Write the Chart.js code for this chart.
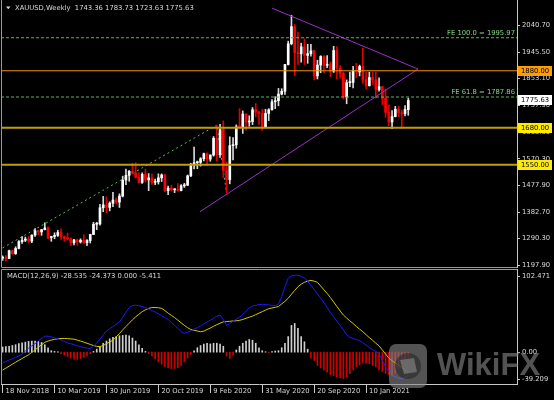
<!DOCTYPE html>
<html>
<head>
<meta charset="utf-8">
<script src="https://cdn.jsdelivr.net/npm/chart.js@4/dist/chart.umd.min.js"></script>
<style>
html, body { margin: 0; padding: 0; background: #000; }
#wrap { position: relative; width: 554px; height: 400px; overflow: hidden; background: #000; }
canvas { position: absolute; left: 0; background: #000; }
#priceChart { top: 0; }
#macdChart { top: 268px; }
</style>
</head>
<body>
<div id="wrap">
  <canvas id="priceChart" width="554" height="268"></canvas>
  <canvas id="macdChart" width="554" height="132"></canvas>
</div>
<script>
// weekly XAUUSD bars, 18 Nov 2018 .. 11 Apr 2021 (bar index = week number)
var openP = [1222,1223,1221,1248,1238,1256,1280,1285,1289,1282,
  1303,1318,1314,1322,1328,1294,1298,1302,1312,1296,
  1291,1290,1276,1286,1279,1285,1276,1284,1305,1341,
  1342,1399,1409,1400,1415,1426,1419,1440,1496,1513,
  1527,1520,1506,1488,1516,1497,1504,1488,1490,1504,
  1514,1459,1468,1462,1464,1459,1476,1478,1511,1552,
  1557,1558,1571,1589,1570,1584,1643,1585,1673,1530,
  1498,1617,1620,1685,1683,1728,1700,1702,1743,1735,
  1730,1683,1730,1743,1771,1775,1798,1808,1902,1975,
  2035,1944,1940,1964,1934,1940,1950,1862,1900,1930,
  1899,1902,1879,1951,1889,1871,1788,1838,1839,1881,
  1876,1895,1849,1828,1856,1848,1814,1824,1784,1734,
  1700,1719,1745,1732,1729,1743.36];
var highP = [1230,1231,1250,1251,1262,1284,1298,1296,1298,1304,
  1326,1320,1323,1346,1332,1299,1311,1320,1325,1300,
  1310,1294,1288,1289,1290,1304,1287,1306,1348,1348,
  1411,1439,1437,1420,1453,1433,1448,1510,1535,1530,
  1555,1557,1522,1522,1535,1519,1517,1500,1518,1518,
  1516,1475,1478,1466,1484,1480,1485,1514,1555,1612,
  1563,1575,1591,1592,1585,1649,1689,1692,1704,1560,
  1648,1645,1690,1747,1739,1730,1722,1751,1765,1738,
  1745,1745,1747,1779,1789,1818,1817,1903,1984,2075,
  2043,2015,1977,1992,1973,1973,1953,1917,1933,1933,
  1933,1911,1966,1965,1898,1875,1848,1875,1896,1906,
  1900,1959,1875,1875,1875,1875,1855,1826,1816,1760,
  1740,1755,1756,1742,1758,1783.73];
var lowP = [1214,1211,1220,1235,1235,1254,1274,1280,1276,1276,
  1298,1304,1302,1321,1290,1281,1290,1298,1288,1281,
  1286,1266,1268,1267,1275,1274,1266,1275,1305,1322,
  1338,1385,1381,1388,1403,1412,1400,1437,1480,1492,
  1517,1503,1485,1484,1490,1459,1481,1480,1482,1491,
  1455,1445,1457,1452,1457,1458,1470,1477,1508,1535,
  1536,1545,1563,1547,1562,1580,1563,1576,1505,1451,
  1483,1567,1608,1680,1660,1671,1685,1691,1718,1692,
  1671,1680,1705,1742,1747,1757,1795,1797,1900,1971,
  1863,1902,1910,1902,1906,1931,1848,1851,1873,1872,
  1891,1860,1874,1851,1854,1781,1764,1824,1820,1855,
  1862,1836,1817,1826,1832,1785,1808,1761,1717,1687,
  1677,1718,1719,1677,1721,1723.63];
var closeP = [1223,1221,1248,1238,1256,1280,1285,1289,1282,1303,
  1318,1314,1322,1328,1294,1298,1302,1312,1296,1291,
  1290,1276,1286,1279,1285,1276,1284,1305,1341,1342,
  1399,1409,1400,1415,1426,1419,1440,1496,1513,1527,
  1520,1506,1488,1516,1497,1504,1488,1490,1504,1514,
  1459,1468,1462,1464,1459,1476,1478,1511,1552,1557,
  1558,1571,1589,1570,1584,1643,1585,1673,1530,1498,
  1617,1620,1683,1683,1728,1700,1702,1743,1735,1730,
  1683,1730,1743,1771,1775,1798,1808,1902,1975,2035,
  1944,1940,1964,1934,1940,1950,1862,1900,1930,1899,
  1902,1879,1951,1889,1871,1788,1838,1839,1881,1876,
  1895,1849,1828,1856,1848,1814,1824,1784,1734,1700,
  1719,1745,1732,1729,1744,1775.63];

// MACD(12,26,9) window
var macdMain = [-13.1,-11.5,-9.7,-8.1,-6.3,-4.6,-2.3,1.4,5.0,7.8,
  10.6,13.7,16.9,19.7,19.7,18.8,17.7,16.5,15.1,13.3,
  11.5,10.4,9.2,8.0,6.8,5.6,5.0,4.6,7.3,11.5,
  16.0,21.1,26.1,28.9,31.6,34.4,37.1,43.1,49.0,55.0,
  57.3,57.9,57.3,56.3,55.0,53.1,51.3,49.6,47.2,44.9,
  42.6,40.3,36.6,33.0,29.3,25.2,23.4,24.7,26.1,28.4,
  30.2,32.5,34.8,37.1,39.4,41.7,44.4,45.8,40.3,33.0,
  35.3,38.0,40.8,43.1,46.3,50.4,54.5,56.8,57.7,58.6,
  59.1,58.6,58.2,57.7,57.3,59.1,68.7,80.6,91.1,93.9,
  94.8,94.8,93.4,91.6,87.0,82.4,77.4,71.9,66.4,61.4,
  55.0,49.0,43.5,38.0,33.0,27.5,21.5,18.3,16.9,15.6,
  14.2,11.5,8.7,5.5,3.2,0.9,-1.6,-10.1,-18.0,-23.8,
  -28.5,-30.5,-32.0,-32.8,-30.8,-28.535];
var macdSignal = [-22.0,-19.7,-17.2,-14.8,-12.4,-10.1,-7.8,-5.5,-3.2,-0.2,
  2.7,6.0,9.2,12.1,13.7,14.9,15.8,16.5,16.9,16.9,
  16.7,16.4,16.0,14.9,13.7,12.4,11.0,9.6,8.2,7.1,
  6.9,8.2,10.5,12.6,14.7,18.8,22.9,27.5,31.6,35.7,
  39.8,43.5,46.7,49.9,52.2,54.0,55.0,55.0,54.8,54.0,
  51.3,48.1,45.3,42.6,39.4,36.2,33.0,30.2,27.9,27.0,
  26.1,25.2,25.9,27.9,29.8,31.9,33.9,35.7,37.4,37.7,
  38.0,38.5,38.7,39.2,40.3,41.7,43.1,44.4,46.3,48.1,
  49.9,51.8,53.6,54.5,55.2,56.3,59.5,62.7,66.4,71.4,
  76.0,80.6,83.8,86.1,87.5,88.4,87.5,86.1,81.5,76.9,
  72.4,67.3,61.8,56.3,50.8,45.8,42.1,38.5,35.3,31.6,
  28.4,25.2,21.5,17.9,14.7,11.0,7.8,2.7,-2.3,-7.3,
  -10.5,-13.3,-16.0,-18.8,-21.5,-24.373];
var macdHist = [6.4,6.9,7.3,8.2,9.2,10.5,11.5,12.4,13.3,13.7,
  13.7,13.3,11.9,9.2,5.5,1.8,0.9,0.5,-1.8,-3.7,
  -5.5,-7.3,-8.7,-8.7,-7.8,-6.4,-4.6,-1.8,0.9,3.7,
  7.3,11.0,13.7,16.5,18.3,19.2,20.2,20.6,21.1,20.2,
  17.4,13.7,9.2,4.6,0.9,-1.8,-4.6,-8.2,-11.9,-14.7,
  -17.4,-19.2,-20.2,-20.2,-19.2,-16.5,-11.9,-7.3,-2.7,1.8,
  5.5,8.2,10.1,11.0,10.1,11.0,11.0,10.1,7.3,-4.6,
  -7.8,-3.7,2.7,7.3,11.0,13.7,15.6,14.7,11.0,5.5,
  1.8,0.5,-0.5,0.7,1.4,1.8,5.5,11.0,19.2,33.0,
  35.4,29.3,19.2,12.8,3.7,-7.3,-10.1,-16.5,-19.2,-22.0,
  -24.7,-27.5,-28.9,-30.2,-31.6,-32.4,-31.1,-26.6,-22.0,-18.3,
  -15.6,-13.7,-13.7,-14.2,-16.5,-18.3,-22.0,-23.8,-26.3,-27.5,
  -28.4,-25.6,-20.2,-13.7,-9.2,-5.411];

var priceTicks = [2040.70, 1945.50, 1853.10, 1757.90, 1665.30, 1570.30, 1477.90, 1382.70, 1290.30, 1197.90];
var macdTicks = [102.471, 0, -39.209];
var dateTickBars = [0, 16, 32, 48, 64, 80, 96, 112];
var dateTickText = ['18 Nov 2018', '10 Mar 2019', '30 Jun 2019', '20 Oct 2019', '9 Feb 2020', '31 May 2020', '20 Sep 2020', '10 Jan 2021'];

// drawn objects (bar index, price)
var resistance = 1880, support1 = 1680, support2 = 1550;
var feLevels = [1995.97, 1787.86];
var feNames = ['FE 100.0', 'FE 61.8'];
var feTrendBars = [0, 66, 69];
var feTrendPrices = [1258, 1689, 1451];
var upperTriBars = [83, 128];
var upperTriPrices = [2100, 1886];
var lowerTriBars = [60.8, 128];
var lowerTriPrices = [1385, 1886];

var slotCount = 159;           // bars that fit the window, incl. right shift
var priceMin = 1190.9, priceMax = 2128.5;
var macdMin = -39.209, macdMax = 102.471;

var txtColor = '#d8d8d8';
var axisColor = '#c8c8c8';
var tickFont = { family: 'DejaVu Sans', size: 6.8 };
var canvasFont = '6.8px "DejaVu Sans"';

var bars = openP.map(function (o, i) { return i; });
var isUp = closeP.map(function (c, i) { return c >= openP[i]; });
var last = closeP.length - 1;
var xFrom = -0.5, xTo = slotCount - 0.5;

function lineSet(xs, ys, color, width, dash, order) {
  return {
    type: 'line',
    data: xs.map(function (x, k) { return { x: x, y: ys[k] }; }),
    borderColor: color, borderWidth: width, borderDash: dash,
    pointRadius: 0, pointHoverRadius: 0, fill: false, tension: 0, order: order
  };
}

var priceOverlay = {
  id: 'priceOverlay',
  afterDraw: function (chart) {
    var ctx = chart.ctx, a = chart.chartArea, y = chart.scales.y;
    ctx.save();
    ctx.strokeStyle = '#9a9a9a';
    ctx.lineWidth = 1;
    ctx.beginPath();
    ctx.moveTo(a.left + 0.5, 0);
    ctx.lineTo(a.left + 0.5, a.bottom + 0.5);
    ctx.lineTo(a.right, a.bottom + 0.5);
    ctx.stroke();

    ctx.font = canvasFont;
    ctx.fillStyle = '#86d286';
    ctx.textAlign = 'right';
    ctx.textBaseline = 'bottom';
    feLevels.forEach(function (v, k) {
      ctx.fillText(feNames[k] + ' = ' + v.toFixed(2), a.right - 2, y.getPixelForValue(v) - 1);
    });

    var boxes = [[resistance, '#ff9c00'], [closeP[last], '#ffffff'], [support1, '#ffea00'], [support2, '#ffea00']];
    boxes.forEach(function (b) {
      var py = Math.round(y.getPixelForValue(b[0]));
      ctx.fillStyle = b[1];
      ctx.fillRect(a.right + 1, py - 5, 34, 10);
      ctx.fillStyle = '#000';
      ctx.textAlign = 'left';
      ctx.textBaseline = 'middle';
      ctx.fillText(b[0].toFixed(2), a.right + 4, py);
    });

    ctx.fillStyle = txtColor;
    ctx.beginPath();
    ctx.moveTo(6, 6.5); ctx.lineTo(10.5, 6.5); ctx.lineTo(8.25, 9.2); ctx.closePath();
    ctx.fill();
    ctx.textAlign = 'left';
    ctx.textBaseline = 'middle';
    ctx.fillText('XAUUSD,Weekly  ' + [openP[last], highP[last], lowP[last], closeP[last]].map(function (v) { return v.toFixed(2); }).join(' '), 15, 8.5);
    ctx.restore();
  }
};

new Chart(document.getElementById('priceChart'), {
  type: 'bar',
  data: {
    datasets: [
      lineSet([xFrom, xTo], [resistance, resistance], '#f09000', 1, [], 1),
      lineSet([xFrom, xTo], [support1, support1], '#c0a000', 2, [], 1),
      lineSet([xFrom, xTo], [support2, support2], '#c0a000', 2, [], 1),
      lineSet([xFrom, xTo], [feLevels[0], feLevels[0]], '#5fb85f', 1, [3, 2], 1),
      lineSet([xFrom, xTo], [feLevels[1], feLevels[1]], '#5fb85f', 1, [3, 2], 1),
      lineSet(upperTriBars, upperTriPrices, '#9a30c8', 1, [], 1),
      lineSet(lowerTriBars, lowerTriPrices, '#9a30c8', 1, [], 1),
      lineSet(feTrendBars, feTrendPrices, '#5fb85f', 1, [2, 3], 7),
      {
        type: 'bar',
        data: bars.map(function (i) { return { x: i, y: [lowP[i], highP[i]] }; }),
        backgroundColor: isUp.map(function (u) { return u ? '#d8d8d8' : '#e00000'; }),
        barThickness: 1, grouped: false, borderWidth: 0, order: 6
      },
      {
        type: 'bar',
        data: bars.map(function (i) { return { x: i, y: [openP[i], closeP[i]] }; }),
        backgroundColor: isUp.map(function (u) { return u ? '#ffffff' : '#ff0000'; }),
        barThickness: 2, minBarLength: 1, grouped: false, borderWidth: 0, order: 5
      }
    ]
  },
  options: {
    responsive: false,
    devicePixelRatio: 1,
    animation: false,
    events: [],
    layout: { padding: { left: 1, top: 0, right: 0, bottom: 1 }, autoPadding: false },
    plugins: { legend: { display: false }, tooltip: { enabled: false } },
    scales: {
      x: { type: 'linear', min: xFrom, max: xTo, offset: false, display: false, grid: { offset: false } },
      y: {
        position: 'right', min: priceMin, max: priceMax, bounds: 'data',
        afterBuildTicks: function (s) { s.ticks = priceTicks.map(function (v) { return { value: v }; }); },
        afterFit: function (s) { s.width = 37; s.paddingTop = 0; s.paddingBottom = 0; },
        ticks: { color: txtColor, font: tickFont, padding: 2, callback: function (v) { return Number(v).toFixed(2); } },
        grid: { drawOnChartArea: false, tickLength: 3, color: axisColor },
        border: { color: axisColor }
      }
    }
  },
  plugins: [priceOverlay]
});

var macdOverlay = {
  id: 'macdOverlay',
  afterDraw: function (chart) {
    var ctx = chart.ctx, a = chart.chartArea, y = chart.scales.y;
    ctx.save();
    ctx.strokeStyle = '#9a9a9a';
    ctx.lineWidth = 1;
    ctx.beginPath();
    ctx.moveTo(a.right, a.top + 0.5);
    ctx.lineTo(a.left + 0.5, a.top + 0.5);
    ctx.lineTo(a.left + 0.5, a.bottom);
    ctx.stroke();

    // axis labels, kept inside the window like the terminal does
    ctx.font = canvasFont;
    ctx.fillStyle = txtColor;
    ctx.strokeStyle = axisColor;
    ctx.textAlign = 'left';
    ctx.textBaseline = 'middle';
    macdTicks.forEach(function (v) {
      var py = Math.min(Math.max(y.getPixelForValue(v), a.top + 7), a.bottom - 5);
      ctx.beginPath();
      ctx.moveTo(a.right, py + 0.5); ctx.lineTo(a.right + 3, py + 0.5);
      ctx.stroke();
      ctx.fillText(v === 0 ? '0.00' : v.toFixed(3), a.right + 5, py);
    });

    ctx.fillText('MACD(12,26,9) ' + [macdMain[last].toFixed(3), macdSignal[last].toFixed(3), (0).toFixed(3), macdHist[last].toFixed(3)].join(' '), 7, 8);

    // watermark
    ctx.globalAlpha = 0.6;
    ctx.fillStyle = '#8a8a8a';
    ctx.beginPath();
    ctx.roundRect(389, 76, 38, 44, 7);
    ctx.fill();
    ctx.fillStyle = '#262626';
    ctx.beginPath();
    ctx.arc(408, 98, 13, 0, Math.PI * 2);
    ctx.fill();
    ctx.fillStyle = '#8a8a8a';
    ctx.beginPath();
    ctx.moveTo(400, 92); ctx.lineTo(414, 90); ctx.lineTo(417, 104); ctx.lineTo(404, 106); ctx.closePath();
    ctx.fill();
    ctx.font = 'bold 31px "Liberation Sans"';
    ctx.textBaseline = 'alphabetic';
    ctx.fillText('WikiFX', 437, 107);
    ctx.restore();
  }
};

new Chart(document.getElementById('macdChart'), {
  type: 'bar',
  data: {
    datasets: [
      lineSet(bars, macdMain, '#1a1aff', 1, [], 1),
      lineSet(bars, macdSignal, '#d2c800', 1, [], 2),
      {
        type: 'bar',
        data: bars.map(function (i) { return { x: i, y: macdHist[i] }; }),
        backgroundColor: macdHist.map(function (v) { return v >= 0 ? '#d0d0d0' : '#d00000'; }),
        barThickness: 1, grouped: false, borderWidth: 0, order: 3
      }
    ]
  },
  options: {
    responsive: false,
    devicePixelRatio: 1,
    animation: false,
    events: [],
    layout: { padding: { left: 1, top: 1, right: 0, bottom: 0 }, autoPadding: false },
    plugins: { legend: { display: false }, tooltip: { enabled: false } },
    scales: {
      x: {
        type: 'linear', min: xFrom, max: xTo, offset: false, position: 'bottom',
        afterBuildTicks: function (s) { s.ticks = dateTickBars.map(function (v) { return { value: v }; }); },
        afterFit: function (s) { s.height = 16; s.paddingLeft = 0; s.paddingRight = 0; },
        ticks: {
          align: 'start', labelOffset: 3, padding: -5.4, maxRotation: 0, autoSkip: false,
          color: txtColor, font: tickFont,
          callback: function (v) { return dateTickText[dateTickBars.indexOf(v)]; }
        },
        grid: { drawOnChartArea: false, offset: false, tickLength: 9, color: axisColor },
        border: { color: axisColor }
      },
      y: {
        position: 'right', min: macdMin, max: macdMax, bounds: 'data',
        afterFit: function (s) { s.width = 37; s.paddingTop = 0; s.paddingBottom = 0; },
        ticks: { display: false },
        grid: { display: false },
        border: { color: axisColor }
      }
    }
  },
  plugins: [macdOverlay]
});
</script>
</body>
</html>
